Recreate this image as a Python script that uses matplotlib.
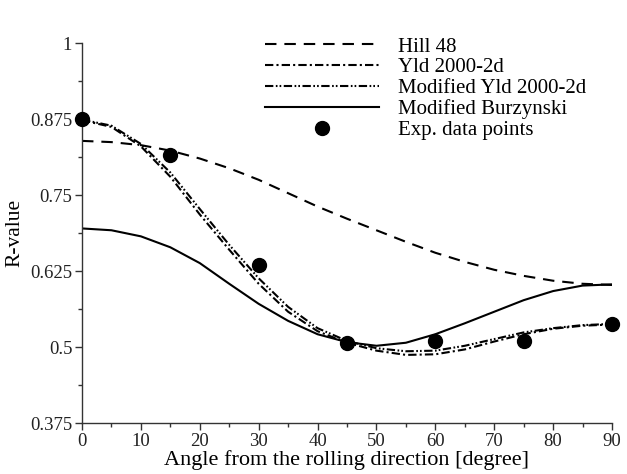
import matplotlib
matplotlib.use("Agg")
import matplotlib.pyplot as plt
from matplotlib.ticker import MultipleLocator

plt.rcParams['font.family'] = ['Liberation Serif', 'DejaVu Serif']

# Angle from the rolling direction (degrees)
angles = [0, 5, 10, 15, 20, 25, 30, 35, 40, 45, 50, 55, 60, 65, 70, 75, 80, 85, 90]

r_hill48 = [0.839, 0.837, 0.832, 0.823, 0.810, 0.794, 0.775, 0.753, 0.731, 0.711,
            0.692, 0.673, 0.655, 0.640, 0.627, 0.617, 0.609, 0.604, 0.602]
r_yld2000 = [0.873, 0.862, 0.830, 0.780, 0.718, 0.660, 0.604, 0.558, 0.526, 0.507,
             0.494, 0.487, 0.488, 0.496, 0.509, 0.521, 0.530, 0.535, 0.537]
r_mod_yld2000 = [0.874, 0.864, 0.834, 0.787, 0.727, 0.668, 0.613, 0.566, 0.531, 0.510,
                 0.498, 0.493, 0.494, 0.502, 0.513, 0.524, 0.531, 0.536, 0.538]
r_mod_burz = [0.695, 0.692, 0.682, 0.664, 0.638, 0.604, 0.571, 0.543, 0.521, 0.508,
              0.502, 0.507, 0.521, 0.539, 0.558, 0.577, 0.592, 0.601, 0.603]

exp_angles = [0, 15, 30, 45, 60, 75, 90]
exp_r = [0.875, 0.815, 0.635, 0.507, 0.510, 0.510, 0.538]

fig = plt.figure(figsize=(6.27, 4.74), dpi=100)
ax = fig.add_axes([82 / 627, 1 - 423 / 474, (612 - 82) / 627, (423 - 43) / 474])

lw = 1.5
ax.plot(angles, r_hill48, color='black', lw=lw, dashes=(5.5, 3.8), label='Hill 48')
ax.plot(angles, r_yld2000, color='black', lw=lw, dashes=(4, 1.5, 1, 1.5),
        label='Yld 2000-2d')
ax.plot(angles, r_mod_yld2000, color='black', lw=lw, dashes=(4, 1.2, 0.8, 1.0, 0.8, 1.2),
        label='Modified Yld 2000-2d')
ax.plot(angles, r_mod_burz, color='black', lw=lw, linestyle='-', label='Modified Burzynski')
ax.plot(exp_angles, exp_r, linestyle='none', marker='o', markersize=10,
        color='black', label='Exp. data points', clip_on=False, zorder=5)

ax.set_xlim(0, 90)
ax.set_ylim(0.375, 1.0)
ax.xaxis.set_major_locator(MultipleLocator(10))
ax.xaxis.set_minor_locator(MultipleLocator(5))
ax.yaxis.set_major_locator(MultipleLocator(0.125))
ax.yaxis.set_minor_locator(MultipleLocator(0.0625))
ax.set_yticks([0.375, 0.5, 0.625, 0.75, 0.875, 1.0])
ax.set_yticklabels(['0.375', '0.5', '0.625', '0.75', '0.875', '1'])

for side in ('top', 'right'):
    ax.spines[side].set_visible(False)
for side in ('left', 'bottom'):
    ax.spines[side].set_color('#333333')
    ax.spines[side].set_linewidth(1.0)

ax.tick_params(which='major', direction='out', length=5, width=1, colors='#333333',
               labelsize=13.5, labelcolor='#222222', pad=2)
ax.tick_params(which='minor', direction='out', length=3, width=1, colors='#333333')

ax.set_xlabel('Angle from the rolling direction [degree]', fontsize=16, labelpad=0)
ax.set_ylabel('R-value', fontsize=15.5, labelpad=4)

leg = fig.legend(loc='upper left', bbox_to_anchor=(265 / 627, 1 - 37 / 474),
                 frameon=False, fontsize=15, handlelength=5.45, handletextpad=0.95,
                 labelspacing=0.06, borderpad=0, borderaxespad=0)

fig.savefig('out.png', dpi=100)
